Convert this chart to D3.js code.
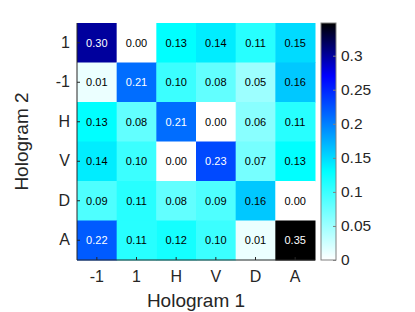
<!DOCTYPE html>
<html>
<head>
<meta charset="utf-8">
<title>Hologram heatmap</title>
<script src="https://d3js.org/d3.v7.min.js"></script>
<style>
	body { margin: 0; background: #fff; }
	text { font-family: "Liberation Sans", Arial, sans-serif; fill: #262626; }
</style>
</head>
<body>
<script>

	// data
	var xLabels = ["-1", "1", "H", "V", "D", "A"];
	var yLabels = ["1", "-1", "H", "V", "D", "A"];
	var values = [
		[0.30, 0.00, 0.13, 0.14, 0.11, 0.15],
		[0.01, 0.21, 0.10, 0.08, 0.05, 0.16],
		[0.13, 0.08, 0.21, 0.00, 0.06, 0.11],
		[0.14, 0.10, 0.00, 0.23, 0.07, 0.13],
		[0.09, 0.11, 0.08, 0.09, 0.16, 0.00],
		[0.22, 0.11, 0.12, 0.10, 0.01, 0.35]
	];
	var colorTicks = [0, 0.05, 0.1, 0.15, 0.2, 0.25, 0.3];

	var width = 415, height = 312;
	var plot = { left: 77, top: 23, width: 238, height: 237 };
	var bar = { left: 321, width: 15 };
	var vmax = 0.348;

	var svg = d3.select("body").append("svg")
		.attr("width", width)
		.attr("height", height);

	var x = d3.scaleBand().domain(xLabels.map(function (d, i) { return i; }))
		.range([plot.left, plot.left + plot.width]);
	var y = d3.scaleBand().domain(yLabels.map(function (d, i) { return i; }))
		.range([plot.top, plot.top + plot.height]);

	// white -> cyan -> blue -> black
	var color = d3.scaleLinear()
		.domain([0, 0.13, 0.27, vmax])
		.range(["#ffffff", "#00ffff", "#0000ff", "#000000"])
		.clamp(true);

	var cells = [];
	values.forEach(function (row, r) {
		row.forEach(function (v, c) { cells.push({ r: r, c: c, v: v }); });
	});

	var g = svg.append("g");
	g.selectAll("rect.cell")
		.data(cells)
		.enter().append("rect")
		.attr("class", "cell")
		.attr("x", function (d) { return x(d.c); })
		.attr("y", function (d) { return y(d.r); })
		.attr("width", x.bandwidth() + 0.5)
		.attr("height", y.bandwidth() + 0.5)
		.attr("fill", function (d) { return color(d.v); });

	g.selectAll("text.val")
		.data(cells)
		.enter().append("text")
		.attr("class", "val")
		.attr("x", function (d) { return x(d.c) + x.bandwidth() / 2; })
		.attr("y", function (d) { return y(d.r) + y.bandwidth() / 2; })
		.attr("text-anchor", "middle")
		.attr("dominant-baseline", "central")
		.style("font-size", "11px")
		.style("fill", function (d) { return d.v >= 0.2 ? "#ffffff" : "#000000"; })
		.text(function (d) { return d.v.toFixed(2); });

	// axes
	var xAxis = d3.axisBottom(x).tickSize(-3).tickPadding(11)
		.tickFormat(function (i) { return xLabels[i]; });
	var yAxis = d3.axisLeft(y).tickSize(-3).tickPadding(7)
		.tickFormat(function (i) { return yLabels[i]; });

	var gx = svg.append("g")
		.attr("transform", "translate(0," + (plot.top + plot.height) + ")")
		.call(xAxis);
	var gy = svg.append("g")
		.attr("transform", "translate(" + plot.left + ",0)")
		.call(yAxis);
	[gx, gy].forEach(function (a) {
		a.select(".domain").attr("stroke", "#262626").attr("stroke-width", 1);
		a.selectAll(".tick line").attr("stroke", "#262626");
		a.selectAll(".tick text").style("font-size", "16px").style("fill", "#262626");
	});
	gx.select(".domain").attr("d", "M" + plot.left + ",0H" + (plot.left + plot.width));
	gy.select(".domain").attr("d", "M0," + plot.top + "V" + (plot.top + plot.height));

	svg.append("text")
		.attr("x", plot.left + plot.width / 2)
		.attr("y", 307)
		.attr("text-anchor", "middle")
		.style("font-size", "19px")
		.text("Hologram 1");

	svg.append("text")
		.attr("transform", "translate(28," + (plot.top + plot.height / 2) + ") rotate(-90)")
		.attr("text-anchor", "middle")
		.style("font-size", "19px")
		.text("Hologram 2");

	// colorbar
	var cy = d3.scaleLinear().domain([0, vmax])
		.range([plot.top + plot.height, plot.top]);

	var defs = svg.append("defs");
	var grad = defs.append("linearGradient")
		.attr("id", "cbar")
		.attr("x1", 0).attr("y1", 1).attr("x2", 0).attr("y2", 0);
	color.domain().forEach(function (v) {
		grad.append("stop")
			.attr("offset", v / vmax)
			.attr("stop-color", color(v));
	});

	svg.append("rect")
		.attr("x", bar.left)
		.attr("y", plot.top)
		.attr("width", bar.width)
		.attr("height", plot.height)
		.attr("fill", "url(#cbar)")
		.attr("stroke", "#808080")
		.attr("stroke-width", 1);

	var cAxis = d3.axisRight(cy).tickValues(colorTicks).tickSize(-3).tickPadding(5)
		.tickFormat(function (d) { return d3.format("")(d); });
	var gc = svg.append("g")
		.attr("transform", "translate(" + (bar.left + bar.width) + ",0)")
		.call(cAxis);
	gc.select(".domain").remove();
	gc.selectAll(".tick line").attr("stroke", "#808080");
	gc.selectAll(".tick text").style("font-size", "15.5px").style("fill", "#262626");

</script>
</body>
</html>
